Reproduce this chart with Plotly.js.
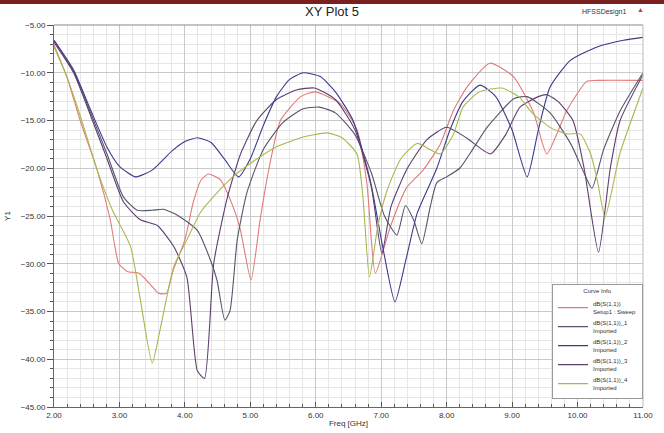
<!DOCTYPE html>
<html>
<head>
<meta charset="utf-8">
<script src="https://cdn.plot.ly/plotly-3.0.1.min.js"></script>
<style>
html,body{margin:0;padding:0;background:#fff;}
#chart{width:664px;height:433px;}
</style>
</head>
<body>
<div id="chart"></div>
<script>
// ---- data (Freq [GHz], dB) ----
const redF  = [2.0,2.2,2.4,2.66,2.86,2.99,3.12,3.3,3.45,3.6,3.72,3.82,4.0,4.13,4.25,4.36,4.54,4.74,4.85,5.01,5.15,5.26,5.46,5.77,5.99,6.37,6.63,6.78,6.91,7.14,7.39,7.64,7.9,8.1,8.31,8.66,9.02,9.33,9.53,9.84,10.14,10.3,11.0];
const redV  = [-7.1,-10.5,-15.0,-20.2,-25.4,-30.0,-30.8,-31.0,-32.0,-33.1,-33.1,-30.7,-27.5,-23.5,-21.2,-20.6,-21.2,-24.1,-26.5,-31.7,-25.4,-20.9,-15.0,-12.5,-12.0,-13.2,-16.0,-21.5,-31.0,-26.1,-22.0,-20.2,-17.5,-14.0,-11.5,-9.0,-10.4,-14.2,-18.5,-13.9,-10.9,-10.8,-10.8];

const s1F = [2.0,2.3,2.56,2.81,3.06,3.27,3.5,3.67,3.88,4.19,4.39,4.49,4.61,4.69,4.8,4.95,5.2,5.5,5.8,6.05,6.3,6.6,6.85,7.05,7.24,7.37,7.5,7.62,7.75,7.85,8.0,8.2,8.4,8.62,9.03,9.23,9.58,9.9,10.1,10.22,10.4,10.65,11.0];
const s1V = [-6.6,-9.9,-14.2,-18.5,-23.0,-24.4,-24.4,-24.3,-24.9,-26.5,-29.6,-31.7,-35.9,-34.9,-27.5,-22.5,-18.0,-15.2,-13.8,-13.6,-14.2,-16.5,-20.5,-25.0,-27.0,-23.9,-25.5,-27.9,-24.0,-21.5,-20.9,-20.0,-18.0,-15.7,-12.7,-12.5,-14.2,-17.5,-20.5,-22.1,-18.0,-14.0,-10.0];

const s2F = [2.0,2.3,2.56,2.81,3.0,3.25,3.5,3.8,4.0,4.19,4.4,4.6,4.82,5.0,5.2,5.4,5.6,5.81,6.07,6.3,6.57,6.83,7.03,7.21,7.38,7.55,7.85,8.05,8.25,8.51,8.75,9.0,9.23,9.4,9.58,9.89,10.3,10.7,11.0];
const s2V = [-6.6,-9.7,-13.9,-17.8,-19.8,-20.9,-20.2,-18.2,-17.2,-16.8,-17.3,-19.0,-20.9,-19.0,-15.5,-12.5,-10.7,-10.0,-10.4,-12.0,-15.0,-21.2,-28.5,-34.0,-29.5,-24.7,-20.0,-16.0,-13.0,-11.3,-12.5,-16.0,-20.9,-16.0,-11.5,-8.7,-7.3,-6.6,-6.3];

const s3F = [2.0,2.3,2.56,2.81,3.06,3.32,3.58,3.83,4.03,4.19,4.3,4.44,4.64,4.85,5.1,5.4,5.7,5.98,6.3,6.6,6.85,7.01,7.15,7.4,7.7,8.0,8.3,8.67,8.9,9.12,9.4,9.53,9.7,9.93,10.1,10.32,10.5,10.65,11.0];
const s3V = [-6.8,-10.0,-14.5,-19.0,-23.5,-25.4,-26.0,-28.2,-31.4,-41.2,-42.0,-30.0,-23.3,-18.5,-15.0,-12.8,-11.8,-11.6,-12.8,-16.0,-22.0,-28.9,-24.0,-20.0,-17.0,-15.7,-16.8,-18.5,-16.5,-13.6,-12.5,-12.3,-13.0,-15.0,-20.0,-28.8,-20.0,-15.0,-10.2];

const s4F = [2.0,2.2,2.4,2.66,2.9,3.17,3.32,3.5,3.63,3.83,4.03,4.24,4.5,4.75,5.0,5.36,5.77,6.17,6.4,6.63,6.72,6.82,6.95,7.09,7.3,7.55,7.9,8.1,8.25,8.5,8.84,9.1,9.32,9.6,9.84,10.04,10.2,10.3,10.42,10.65,11.0];
const s4V = [-7.3,-10.5,-14.5,-20.2,-24.5,-28.2,-33.8,-40.4,-36.6,-30.3,-27.5,-24.6,-22.5,-20.8,-19.5,-17.9,-16.8,-16.3,-16.8,-18.5,-23.0,-31.4,-26.0,-22.3,-19.0,-17.4,-18.5,-16.5,-13.6,-12.0,-11.6,-12.5,-14.3,-15.8,-16.4,-16.4,-18.5,-21.2,-25.1,-18.4,-11.6];

const names = ["dB(S(1,1))<br>Setup1 : Sweep","dB(S(1,1))_1<br>Imported","dB(S(1,1))_2<br>Imported","dB(S(1,1))_3<br>Imported","dB(S(1,1))_4<br>Imported"];
const xTickVals = [2,3,4,5,6,7,8,9,10,11];
const yTickVals = [-5,-10,-15,-20,-25,-30,-35,-40,-45];

const colors = ["#e07a7a","#55556e","#3a3a8c","#5e3e6e","#a9b84e"];
const series = [[redF,redV],[s1F,s1V],[s2F,s2V],[s3F,s3V],[s4F,s4V]];

const FONT = "Liberation Sans Narrow, Arial Narrow, Liberation Sans, Arial, sans-serif";

const traces = series.map((s,i)=>({
  x:s[0], y:s[1], type:'scatter', mode:'lines', name:names[i],
  line:{color:colors[i], width:1.1, shape:'spline', smoothing:0.55}
}));

const layout = {
  width:664, height:433,
  margin:{l:54, r:21, t:25, b:26},
  paper_bgcolor:'#ffffff', plot_bgcolor:'#ffffff',
  showlegend:true,
  title:{text:'XY Plot 5', x:0.5, xanchor:'center', y:0.985, yanchor:'top', font:{family:FONT, size:13, color:'#222'}},
  font:{family:FONT, size:8, color:'#333'},
  xaxis:{
    range:[2,11], tickvals:xTickVals, tickformat:'.2f',
    showgrid:true, gridcolor:'#c9c9c9', gridwidth:1,
    minor:{dtick:0.2, showgrid:true, gridcolor:'#e6e6e6', ticks:'inside', ticklen:3, tickcolor:'#555'},
    ticks:'inside', ticklen:5, tickcolor:'#555',
    showline:true, linecolor:'#666', linewidth:1, mirror:false, zeroline:false,
    tickfont:{family:FONT, size:8, color:'#333'},
    title:{text:'Freq [GHz]', standoff:1, font:{family:FONT, size:8, color:'#333'}}
  },
  yaxis:{
    range:[-45,-5], tickvals:yTickVals, tickformat:'.2f',
    showgrid:true, gridcolor:'#c9c9c9', gridwidth:1,
    minor:{dtick:1, showgrid:true, gridcolor:'#e6e6e6', ticks:'outside', ticklen:3, tickcolor:'#555'},
    ticks:'outside', ticklen:6, tickcolor:'#555',
    showline:true, linecolor:'#666', linewidth:1, zeroline:false,
    tickfont:{family:FONT, size:8, color:'#333'},
    title:{text:'Y1', standoff:8, font:{family:FONT, size:8, color:'#333'}}
  },
  legend:{
    x:1.0, xanchor:'right', y:0.02, yanchor:'bottom',
    bgcolor:'#ffffff', bordercolor:'#999', borderwidth:1,
    font:{family:FONT, size:6, color:'#333'},
    title:{text:'Curve Info', side:'top center', font:{family:FONT, size:6, color:'#333'}},
    itemwidth:30, tracegroupgap:2
  },
  shapes:[
    {type:'rect', xref:'paper', yref:'paper', x0:-0.095, x1:1.04, y0:1.055, y1:1.07, fillcolor:'#7a2020', line:{width:0}, layer:'above'},
    {type:'line', xref:'paper', yref:'paper', x0:0, x1:1, y0:1, y1:1, line:{color:'#888', width:1}},
    {type:'line', xref:'paper', yref:'paper', x0:1, x1:1, y0:0, y1:1, line:{color:'#bbb', width:1}}
  ],
  annotations:[
    {text:'HFSSDesign1', xref:'paper', yref:'paper', x:0.975, y:1.035, xanchor:'right', yanchor:'middle', showarrow:false, font:{family:FONT, size:7, color:'#333'}},
    {text:'▲', xref:'paper', yref:'paper', x:1.005, y:1.04, xanchor:'right', yanchor:'middle', showarrow:false, font:{family:FONT, size:7, color:'#c04040'}}
  ]
};

Plotly.newPlot('chart', traces, layout, {displayModeBar:false, staticPlot:true});
</script>
</body>
</html>
